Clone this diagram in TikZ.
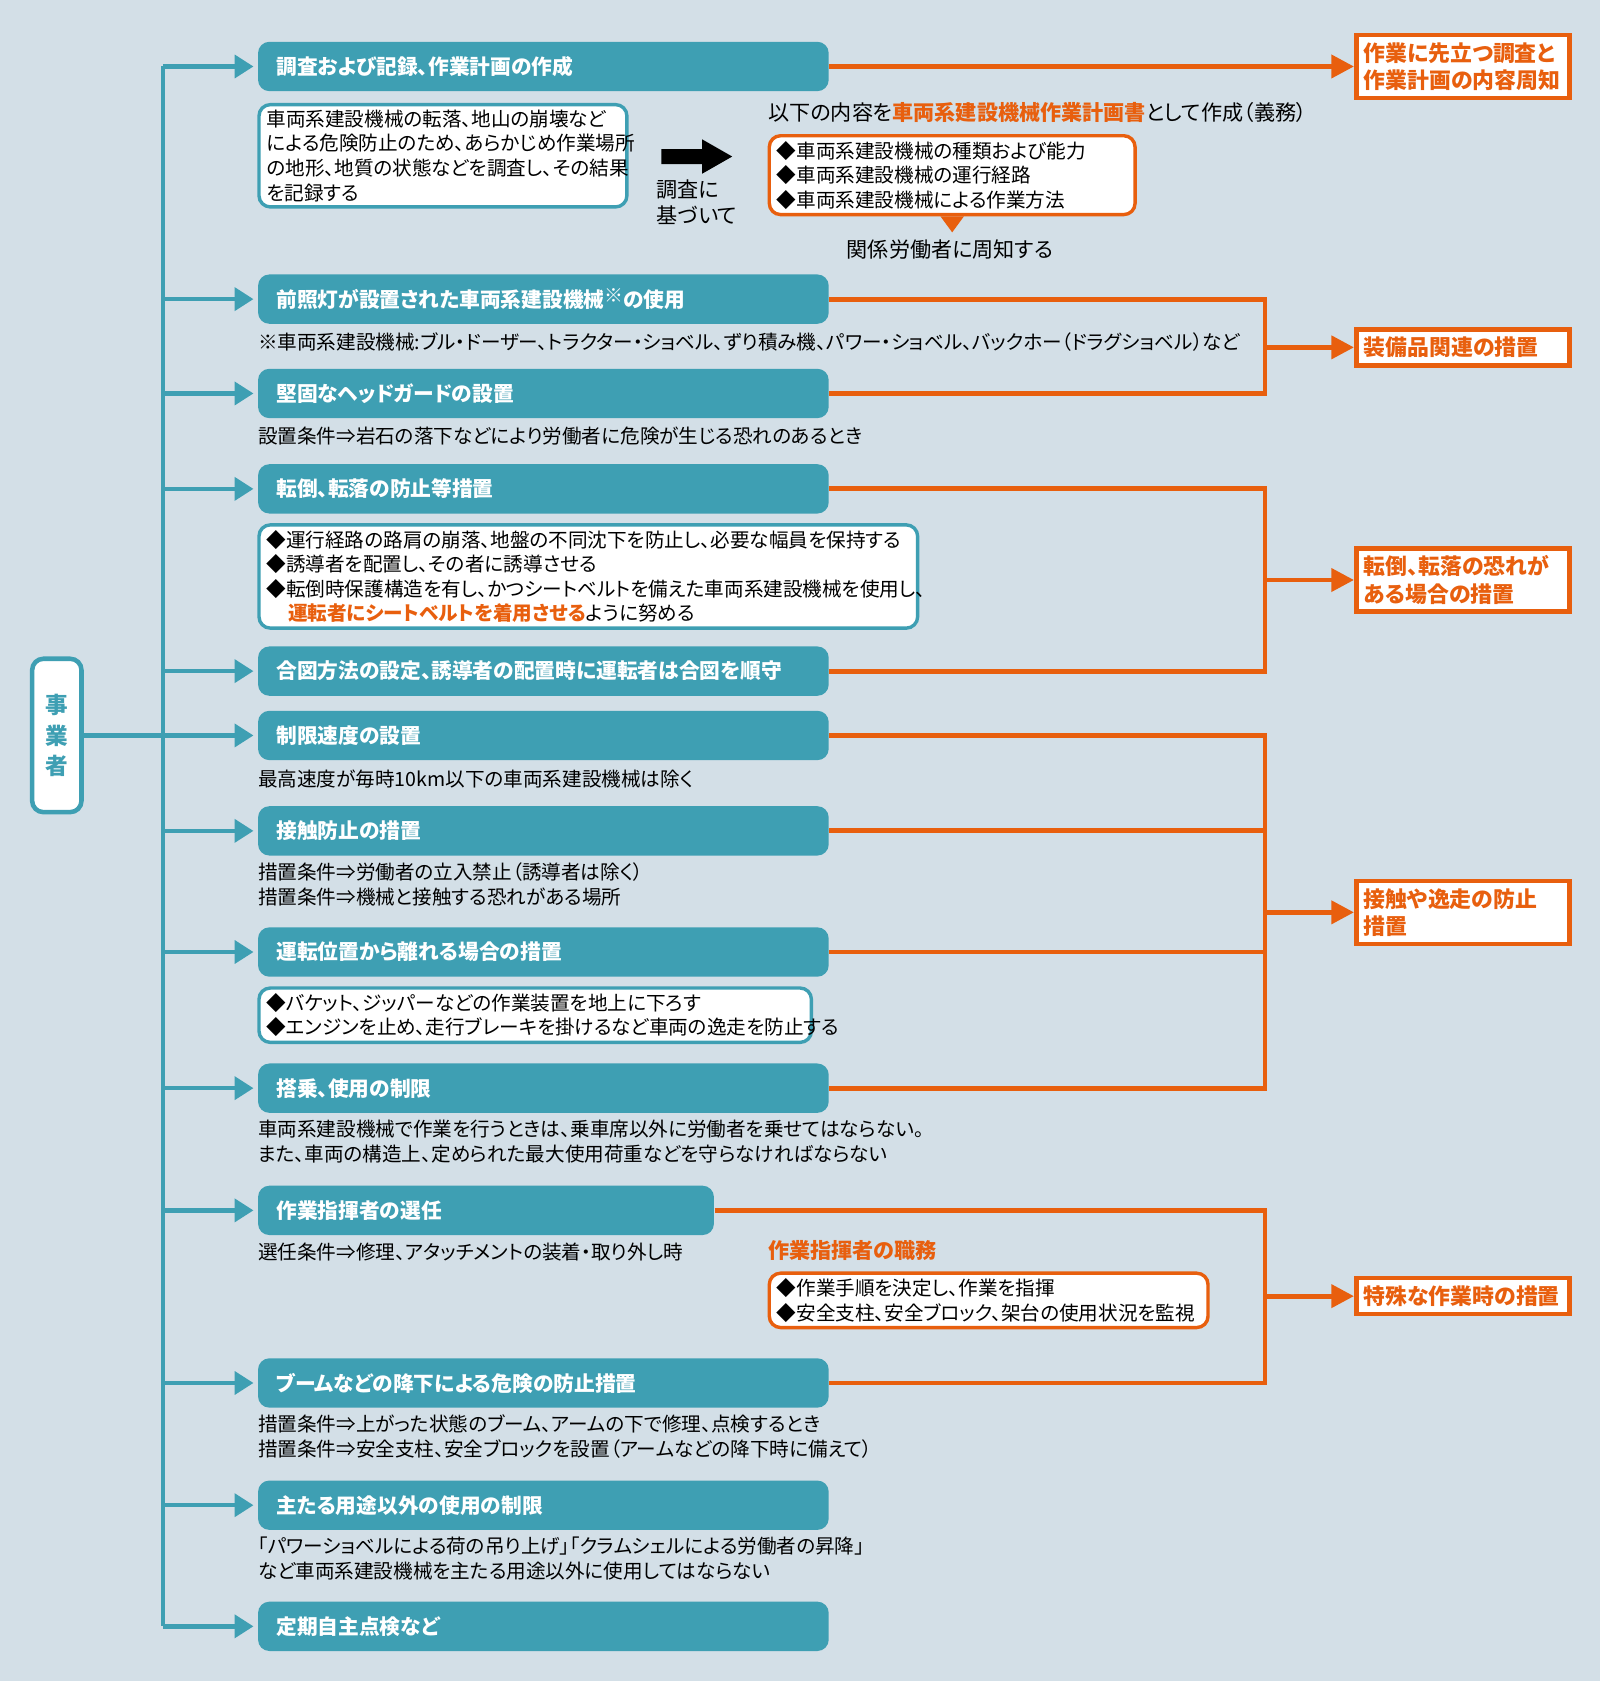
\documentclass[tikz,border=0pt]{standalone}
\usepackage{fontspec}
\setmainfont[RawFeature={+palt}]{Noto Sans CJK JP}
\usetikzlibrary{arrows.meta,positioning,calc}
\definecolor{BgGrey}{HTML}{D3DFE7}
\definecolor{HdrTeal}{HTML}{3E9FB3}
\definecolor{MeasOrange}{HTML}{E85F0E}
\newcommand{\otxt}[1]{\textcolor{MeasOrange}{\bfseries #1}}
\tikzset{
  hdr/.style={fill=HdrTeal,rounded corners=3pt,minimum height=0.46cm,inner sep=0pt},
  hdrtxt/.style={text=white,font=\bfseries\fontsize{5.5pt}{6.6pt}\selectfont,inner sep=0pt},
  body/.style={font=\fontsize{5.2pt}{6.5pt}\selectfont,align=left,inner sep=0pt},
  tbox/.style={body,draw=HdrTeal,fill=white,line width=0.9pt,rounded corners=3pt,inner xsep=0.07cm,inner ysep=0.05cm},
  obox/.style={body,draw=MeasOrange,fill=white,line width=0.9pt,rounded corners=3pt,inner xsep=0.07cm,inner ysep=0.05cm},
  resbox/.style={draw=MeasOrange,fill=white,line width=1.2pt,minimum width=1.99cm,align=left,text width=1.85cm,
    font=\bfseries\fontsize{5.8pt}{7.2pt}\selectfont,text=MeasOrange,inner sep=0.07cm},
  tarrow/.style={HdrTeal,line width=1.2pt,-{Triangle[length=5pt,width=6pt]}},
  tline/.style={HdrTeal,line width=1.2pt},
  oline/.style={MeasOrange,line width=1.3pt},
  oarrow/.style={MeasOrange,line width=1.3pt,-{Triangle[length=6pt,width=6pt]}},
}
\begin{document}
\begin{tikzpicture}[x=0.01cm,y=-0.01cm]
  \fill[BgGrey] (0,0) rectangle (1492,1568);
  \useasboundingbox (0,0) rectangle (1492,1568);
  \coordinate (trunk) at (152,0);
  \coordinate (br) at (1180,0);
  % 見出し
  \foreach \n/\y/\w/\t in {1/62/5.32/調査および記録、作業計画の作成,
      2/279/5.32/前照灯が設置された車両系建設機械\raisebox{0.5ex}{\tiny ※}の使用,
      3/367/5.32/堅固なヘッドガードの設置,
      4/456/5.32/転倒、転落の防止等措置,
      5/626/5.32/合図方法の設定、誘導者の配置時に運転者は合図を順守,
      6/686/5.32/制限速度の設置,
      7/775/5.32/接触防止の措置,
      8/888/5.32/運転位置から離れる場合の措置,
      9/1015/5.32/搭乗、使用の制限,
      10/1129/4.25/作業指揮者の選任,
      11/1290/5.32/ブームなどの降下による危険の防止措置,
      12/1404/5.32/主たる用途以外の使用の制限,
      13/1517/5.32/定期自主点検など} {
    \node[hdr,minimum width=\w cm,anchor=west] (h\n) at (240,\y) {};
    \node[hdrtxt,anchor=west] at ([xshift=0.17cm]h\n.west) {\t};
    \draw[tarrow] (trunk |- h\n.west) -- ([xshift=-1pt]h\n.west);
  }
  % 事業者
  \node[draw=HdrTeal,fill=white,line width=1.2pt,rounded corners=3pt,minimum width=0.46cm,minimum height=1.43cm,
    align=center,font=\bfseries\fontsize{6pt}{8pt}\selectfont,text=HdrTeal,inner sep=0pt] (biz) at (53,686) {事\\業\\者};
  \draw[tline] (trunk |- h1.west) -- (trunk |- h13.west);
  \draw[tline] (biz.east) -- (trunk |- biz.east);
  % 右側の措置
  \node[resbox,anchor=west] (r1) at (1263,62) {作業に先立つ調査と\\作業計画の内容周知};
  \node[resbox,anchor=west] (r2) at (1263,324) {装備品関連の措置};
  \node[resbox,anchor=west] (r3) at (1263,541) {転倒、転落の恐れが\\ある場合の措置};
  \node[resbox,anchor=west] (r4) at (1263,851) {接触や逸走の防止\\措置};
  \node[resbox,anchor=west] (r5) at (1263,1209) {特殊な作業時の措置};
  \draw[oarrow] (h1.east) -- (r1.west);
  \draw[oline] (h2.east) -- (br |- h2.east) -- (br |- h3.east) -- (h3.east);
  \draw[oarrow] (br |- r2.west) -- (r2.west);
  \draw[oline] (h4.east) -- (br |- h4.east) -- (br |- h5.east) -- (h5.east);
  \draw[oarrow] (br |- r3.west) -- (r3.west);
  \draw[oline] (h6.east) -- (br |- h6.east) -- (br |- h9.east) -- (h9.east);
  \draw[oline] (h7.east) -- (br |- h7.east);
  \draw[oline] (h8.east) -- (br |- h8.east);
  \draw[oarrow] (br |- r4.west) -- (r4.west);
  \draw[oline] (h10.east) -- (br |- h10.east) -- (br |- h11.east) -- (h11.east);
  \draw[oarrow] (br |- r5.west) -- (r5.west);
  % 調査と計画書
  \node[tbox,anchor=north west,text width=3.29cm] (b1) at (240,96)
    {車両系建設機械の転落、地山の崩壊など\\による危険防止のため、あらかじめ作業場所\\の地形、地質の状態などを調査し、その結果\\を記録する};
  \fill (617,139) -- (655,139) -- (655,130) -- (683,146) -- (655,162) -- (655,153) -- (617,153) -- cycle;
  \node[body,anchor=north west,font=\fontsize{5.6pt}{7pt}\selectfont] (basis) at (612,167) {調査に\\基づいて};
  \node[body,anchor=west,font=\fontsize{5.6pt}{6.5pt}\selectfont] (plan) at (716,105)
    {以下の内容を\otxt{車両系建設機械作業計画書}として作成（義務）};
  \node[obox,anchor=north west,text width=3.27cm] (pl) at (716,125)
    {◆車両系建設機械の種類および能力\\◆車両系建設機械の運行経路\\◆車両系建設機械による作業方法};
  \fill[MeasOrange] ([shift={(-11,0)}]pl.south) -- ([shift={(11,0)}]pl.south) -- ([shift={(0,15)}]pl.south) -- cycle;
  \node[body,font=\fontsize{5.6pt}{6.5pt}\selectfont] (notify) at (886,233) {関係労働者に周知する};
  % 各項目の説明
  \node[body,anchor=west] (n2) at (240,319) {※車両系建設機械:ブル・ドーザー、トラクター・ショベル、ずり積み機、パワー・ショベル、バックホー（ドラグショベル）など};
  \node[body,anchor=west] (n3) at (240,407) {設置条件⇒岩石の落下などにより労働者に危険が生じる恐れのあるとき};
  \node[tbox,anchor=north west,text width=6.0cm] (b4) at (240,488)
    {◆運行経路の路肩の崩落、地盤の不同沈下を防止し、必要な幅員を保持する\\◆誘導者を配置し、その者に誘導させる\\◆転倒時保護構造を有し、かつシートベルトを備えた車両系建設機械を使用し、\\\hspace*{1.1em}\otxt{運転者にシートベルトを着用させる}ように努める};
  \node[body,anchor=west] (n6) at (240,727) {最高速度が毎時10km以下の車両系建設機械は除く};
  \node[body,anchor=north west] (n7) at (240,804) {措置条件⇒労働者の立入禁止（誘導者は除く）\\措置条件⇒機械と接触する恐れがある場所};
  \node[tbox,anchor=north west,text width=5.01cm] (b8) at (240,920)
    {◆バケット、ジッパーなどの作業装置を地上に下ろす\\◆エンジンを止め、走行ブレーキを掛けるなど車両の逸走を防止する};
  \node[body,anchor=north west] (n9) at (240,1044) {車両系建設機械で作業を行うときは、乗車席以外に労働者を乗せてはならない。\\また、車両の構造上、定められた最大使用荷重などを守らなければならない};
  \node[body,anchor=west] (n10) at (240,1168) {選任条件⇒修理、アタッチメントの装着・取り外し時};
  \node[body,anchor=west,font=\bfseries\fontsize{5.6pt}{6.5pt}\selectfont,text=MeasOrange] (duty) at (716,1166) {作業指揮者の職務};
  \node[obox,anchor=north west,text width=3.95cm] (b10) at (716,1186)
    {◆作業手順を決定し、作業を指揮\\◆安全支柱、安全ブロック、架台の使用状況を監視};
  \node[body,anchor=north west] (n11) at (240,1319) {措置条件⇒上がった状態のブーム、アームの下で修理、点検するとき\\措置条件⇒安全支柱、安全ブロックを設置（アームなどの降下時に備えて）};
  \node[body,anchor=north west] (n12) at (240,1433) {「パワーショベルによる荷の吊り上げ」「クラムシェルによる労働者の昇降」\\など車両系建設機械を主たる用途以外に使用してはならない};
\end{tikzpicture}
\end{document}
